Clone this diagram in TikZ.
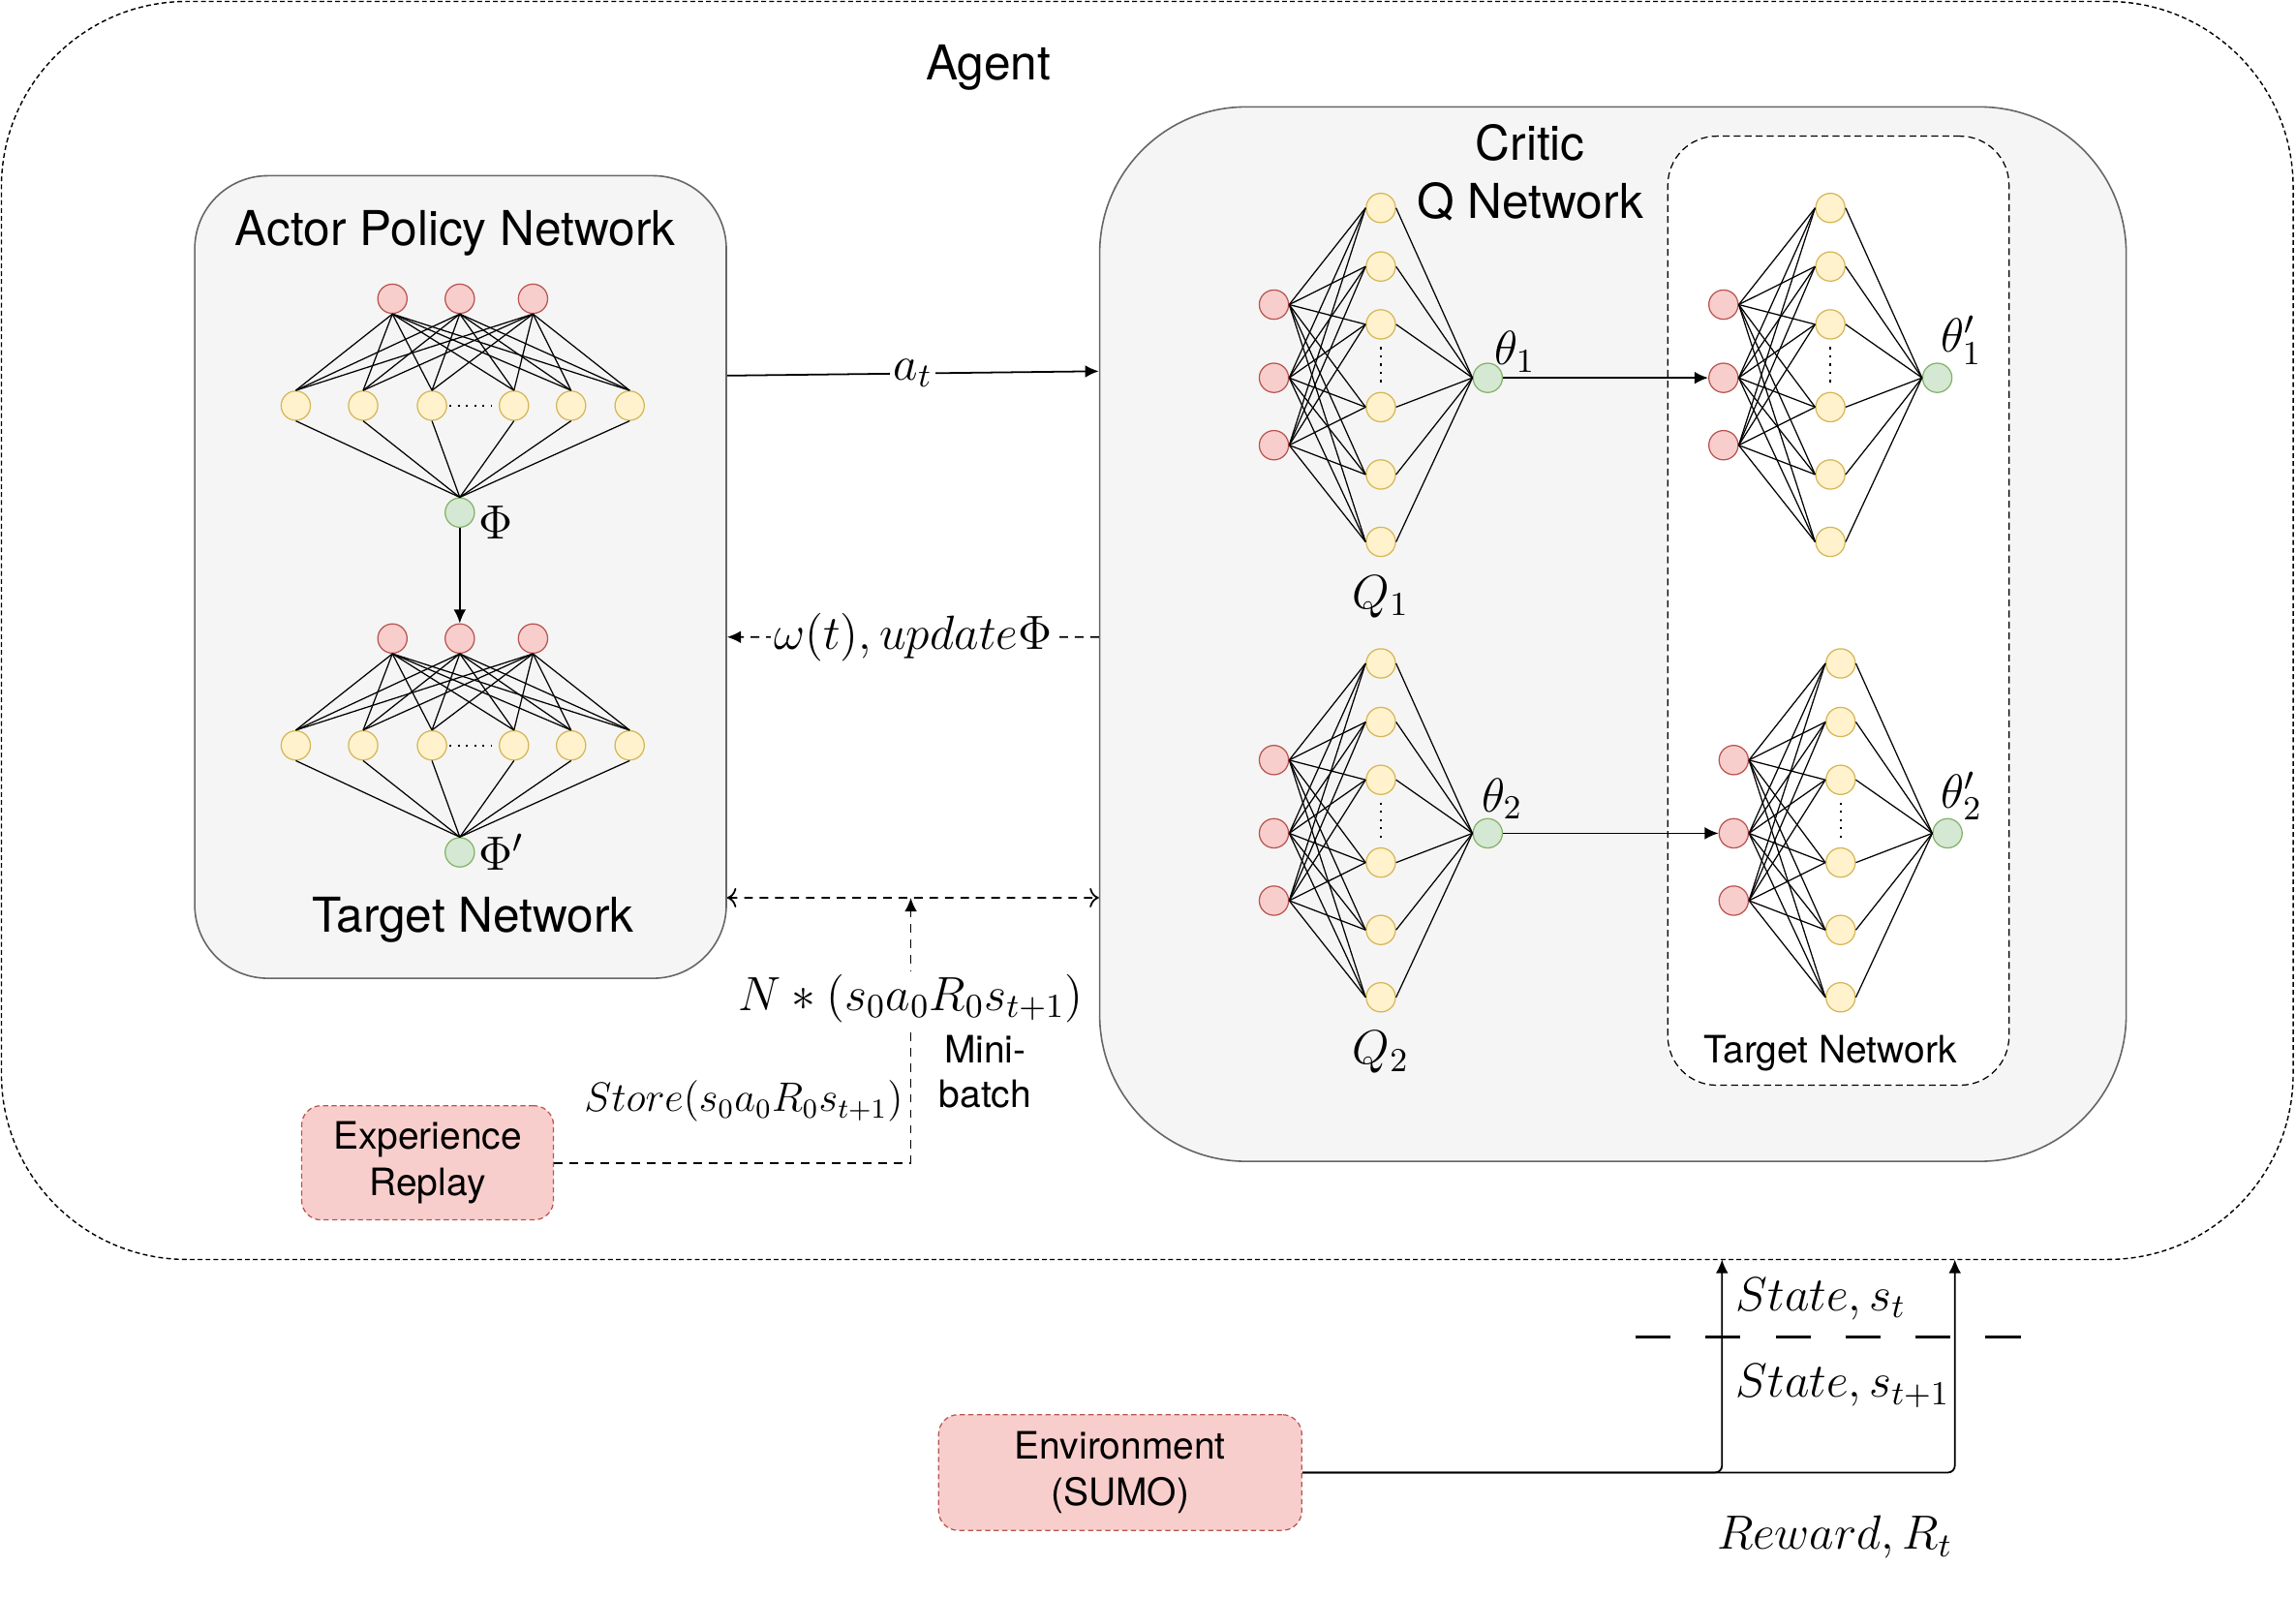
\RequirePackage{fix-cm}
\documentclass[tikz,border=0pt]{standalone}
\usepackage{fontspec}
\setmainfont{TeX Gyre Heros}
\usepackage{amsmath}
\usepackage{tikz}
\usetikzlibrary{arrows.meta,positioning,calc}
\definecolor{UnitRed}{HTML}{F8CECC}
\definecolor{UnitRedLine}{HTML}{B85450}
\definecolor{UnitYel}{HTML}{FFF2CC}
\definecolor{UnitYelLine}{HTML}{D6B656}
\definecolor{UnitGrn}{HTML}{D5E8D4}
\definecolor{UnitGrnLine}{HTML}{82B366}
\definecolor{PanelFill}{HTML}{F5F5F5}
\definecolor{PanelLine}{HTML}{666666}

\tikzset{
  unit/.style={circle,minimum size=0.3cm,inner sep=0pt,line width=0.35pt},
  unitin/.style={unit,fill=UnitRed,draw=UnitRedLine},
  unithid/.style={unit,fill=UnitYel,draw=UnitYelLine},
  unitout/.style={unit,fill=UnitGrn,draw=UnitGrnLine},
  link/.style={line width=0.35pt},
  gap/.style={line width=0.55pt,dash pattern=on 0.6pt off 1.8pt},
  panel/.style={draw=PanelLine,fill=PanelFill,line width=0.45pt},
  store/.style={draw=UnitRedLine,fill=UnitRed,dash pattern=on 1.5pt off 1pt,line width=0.35pt,
    rounded corners=0.2cm,align=center,font=\fontsize{11}{13.6}\selectfont},
  title/.style={font=\fontsize{14}{17}\selectfont,align=center,inner sep=0pt},
  mathlbl/.style={font=\fontsize{14}{17}\selectfont,inner sep=1pt},
  flow/.style={-{Latex[length=4pt,width=3.6pt]},line width=0.5pt},
  dflow/.style={flow,dash pattern=on 2.5pt off 2pt}
}

% critic style net: name, x of inputs, y of middle input, output label, label shift
\newcommand{\qnet}[5]{%
  \foreach \k/\dy in {1/-50,2/0,3/46}
    \node[unitin] (#1-r\k) at ({#2},{#3+\dy}) {};
  \foreach \k/\dy in {1/-116,2/-76,3/-36.5,4/20,5/66,6/112}
    \node[unithid] (#1-h\k) at ({#2+73},{#3+\dy}) {};
  \node[unitout] (#1-o) at ({#2+146},{#3}) {};
  \foreach \i in {1,2,3}
    \foreach \j in {1,...,6}
      \draw[link] (#1-r\i.east) -- (#1-h\j.west);
  \foreach \j in {1,...,6}
    \draw[link] (#1-h\j.east) -- (#1-o.west);
  \draw[gap] ({#2+73},{#3-21}) -- ({#2+73},{#3+7});
  \node[mathlbl,anchor=south west,inner sep=0pt,#5]
    (#1-lbl) at (#1-o.north east) {#4};
}

% actor style net: name, x and y of middle input, output label, label shift
\newcommand{\pnet}[5]{%
  \foreach \k/\dx in {1/-46,2/0,3/50}
    \node[unitin] (#1-r\k) at ({#2+\dx},{#3}) {};
  \foreach \k/\dx in {1/-112,2/-66,3/-19,4/37,5/76,6/116}
    \node[unithid] (#1-h\k) at ({#2+\dx},{#3+73}) {};
  \node[unitout] (#1-o) at ({#2},{#3+146}) {};
  \foreach \i in {1,2,3}
    \foreach \j in {1,...,6}
      \draw[link] (#1-r\i.south) -- (#1-h\j.north);
  \foreach \j in {1,...,6}
    \draw[link] (#1-h\j.south) -- (#1-o.north);
  \draw[gap] ({#2-7},{#3+73}) -- ({#2+22},{#3+73});
  \node[mathlbl,anchor=west,yshift=#5] (#1-lbl) at (#1-o.east) {#4};
}

\begin{document}
\begin{tikzpicture}[x=0.015cm,y=-0.015cm]
  \useasboundingbox (0,0) rectangle (1568,1091);

  \node[draw,line width=0.4pt,dash pattern=on 1.4pt off 0.9pt,rounded corners=1.9cm,
    minimum width=23.475cm,minimum height=12.885cm] (agent) at (783.5,430.5) {};
  \node[title] (agentlbl) at (675,46) {Agent};

  \node[panel,rounded corners=0.75cm,minimum width=5.445cm,minimum height=8.22cm]
    (actor) at (314.5,394) {};
  \node[panel,rounded corners=1.5cm,minimum width=10.515cm,minimum height=10.8cm]
    (critic) at (1101.5,433) {};
  \node[draw,fill=white,line width=0.35pt,dash pattern=on 2pt off 1.2pt,
    rounded corners=0.5cm,minimum width=3.495cm,minimum height=9.72cm]
    (qtarget) at (1255.5,417) {};

  \node[title] (actorlbl) at (311,159) {Actor Policy Network};
  \node[title] (actortgt) at (323,628) {Target Network};
  \node[title] (criticlbl) at (1045,118) {Critic\\Q Network};
  \node[title,font=\fontsize{11}{13}\selectfont] (qtgtlbl) at (1250,719) {Target Network};

  \pnet{pa}{314}{204}{$\Phi$}{-0.1cm}
  \pnet{pt}{314}{436}{$\Phi'$}{0cm}
  \draw[flow] (pa-o) -- (pt-r2);

  \qnet{q1}{870}{258}{$\theta_1$}{xshift=-0.05cm,yshift=-0.06cm}
  \qnet{q1t}{1177}{258}{$\theta'_1$}{xshift=-0.08cm,yshift=0.02cm}
  \qnet{q2}{870}{569}{$\theta_2$}{xshift=-0.18cm,yshift=0.03cm}
  \qnet{q2t}{1184}{569}{$\theta'_2$}{xshift=-0.18cm,yshift=0.02cm}
  \node[mathlbl,below=0.15cm of q1-h6] (q1lbl) {$Q_1$};
  \node[mathlbl,below=0.15cm of q2-h6] (q2lbl) {$Q_2$};
  \draw[flow] (q1-o) -- (q1t-r2);
  \draw[flow] (q2-o) -- (q2t-r2);

  \node[store,minimum width=2.58cm,minimum height=1.17cm] (replay) at (292,794)
    {Experience\\Replay};
  \node[store,minimum width=3.72cm,minimum height=1.185cm] (env) at (765,1005.5)
    {Environment\\(SUMO)};

  \draw[flow] ([yshift=2.0625cm]actor.east) -- ([yshift=2.6925cm]critic.west)
    node[midway,fill=white,mathlbl] {$a_t$};
  \draw[dflow] ([yshift=-0.03cm]critic.west) -- ([yshift=-0.615cm]actor.east)
    node[midway,fill=white,mathlbl] {$\omega(t), update\Phi$};
  \draw[dflow,<->] ([yshift=-3.285cm]actor.east) -- ([yshift=-2.7cm]critic.west);
  \coordinate (batch) at (622,613);
  \draw[dflow] (replay.east) -| (batch)
    node[pos=0.81,fill=white,mathlbl] {$N*(s_0a_0R_0s_{t+1})$}
    node[pos=0.616,anchor=east,inner sep=2pt,font=\fontsize{12}{14}\selectfont]
      {$Store(s_0a_0R_0s_{t+1})$}
    node[pos=0.671,anchor=west,xshift=0.28cm,inner sep=0pt,align=center,
      font=\fontsize{11}{13}\selectfont] {Mini-\\batch};

  \coordinate (statein) at (1176,860);
  \coordinate (rewardin) at (1335,860);
  \draw[flow,rounded corners=2pt] (env.east) -| (statein)
    node[pos=0.907,anchor=west,xshift=0.1cm,mathlbl] {$State, s_t$}
    node[pos=0.703,anchor=west,xshift=0.1cm,mathlbl] {$State, s_{t+1}$};
  \draw[flow,rounded corners=2pt] (env.east) -| (rewardin)
    node[pos=0.408,below=0.4cm,mathlbl] {$Reward, R_t$};
  \draw[line width=1pt,dash pattern=on 10.2pt off 10.2pt] (1117,913) -- (1381,913);
\end{tikzpicture}
\end{document}
